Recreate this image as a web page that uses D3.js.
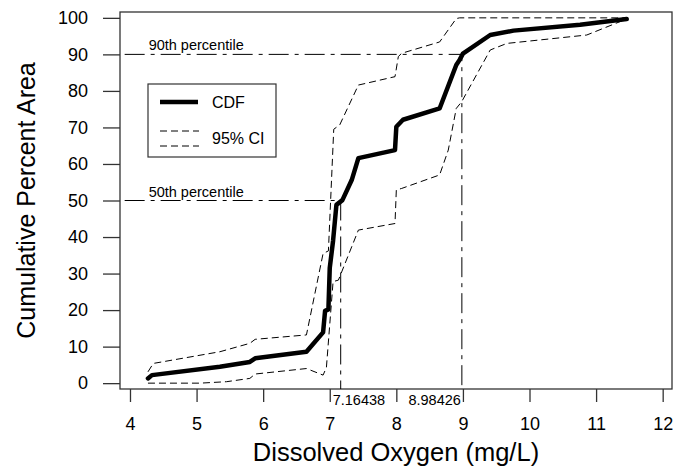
<!DOCTYPE html>
<html lang="en">
<head>
  <meta charset="UTF-8">
  <title>Dissolved Oxygen CDF</title>
  <script src="https://d3js.org/d3.v7.min.js"></script>
  <style>
    body { margin: 0; background: #fff; }
    text { font-family: "Liberation Sans", Arial, sans-serif; fill: #000; }
  </style>
</head>
<body>
  <svg id="chart" width="680" height="468"></svg>

  <script>
    // CDF estimate (dissolved oxygen mg/L, cumulative percent)
    const cdfX = [4.27, 4.33, 5.35, 5.8, 5.88, 6.65, 6.9, 6.93, 6.98, 7.0, 7.05, 7.1, 7.19, 7.33, 7.43, 7.98, 8.0, 8.1, 8.65, 8.9, 8.95, 9.0, 9.41, 9.76, 10.76, 11.46];
    const cdfY = [1.3, 2.2, 4.5, 5.8, 6.8, 8.6, 13.9, 19.8, 20.2, 31.5, 39, 48.8, 50.1, 55.6, 61.6, 63.8, 70.2, 72.1, 75.2, 87.1, 88.5, 90.2, 95.3, 96.5, 98.1, 99.7];

    // upper 95% confidence bound
    const upperX = [4.27, 4.35, 5.35, 5.8, 5.88, 6.65, 6.9, 6.98, 7.06, 7.15, 7.43, 7.98, 8.03, 8.08, 8.65, 8.9, 8.95, 11.46];
    const upperY = [3.1, 5.4, 8.6, 10.9, 12.0, 13.2, 35.5, 36.2, 69.5, 70.7, 81.6, 83.9, 89.4, 90.3, 93.4, 99.8, 100, 100];

    // lower 95% confidence bound
    const lowerX = [4.27, 5.05, 5.45, 5.8, 5.88, 6.65, 6.9, 6.95, 7.05, 7.13, 7.43, 7.98, 8.0, 8.08, 8.65, 8.78, 8.9, 8.98, 9.41, 9.66, 10.86, 11.46];
    const lowerY = [0, 0, 0.4, 1.3, 2.5, 4.0, 2.2, 4.3, 27.8, 28.2, 41.9, 43.7, 52.9, 53.3, 57, 63.8, 75.2, 77, 91.2, 93, 95.3, 99.7];

    // percentile markers
    const pctLevels = [50, 90];
    const pctValues = [7.16438, 8.98426];
    const pctNames = ["50th percentile", "90th percentile"];

    const xTicks = [4, 5, 6, 7, 8, 9, 10, 11, 12];
    const yTicks = [0, 10, 20, 30, 40, 50, 60, 70, 80, 90, 100];

    const svg = d3.select("#chart");

    // plot box
    const boxLeft = 120, boxRight = 672, boxTop = 12, boxBottom = 389;

    const x = d3.scaleLinear().domain([3.85, 12.14]).range([boxLeft, boxRight]);
    const y = d3.scaleLinear().domain([-1.6, 101.6]).range([boxBottom, boxTop]);

    const toPts = (xs, ys) => xs.map((v, i) => [v, ys[i]]);

    const line = d3.line()
      .x(d => x(d[0]))
      .y(d => y(d[1]));

    // box
    svg.append("rect")
      .attr("x", boxLeft)
      .attr("y", boxTop)
      .attr("width", boxRight - boxLeft)
      .attr("height", boxBottom - boxTop)
      .attr("fill", "none")
      .attr("stroke", "#333")
      .attr("stroke-width", 1.3);

    // x axis
    const xAxis = d3.axisBottom(x)
      .tickValues(xTicks)
      .tickSize(13)
      .tickPadding(15)
      .tickFormat(d3.format("d"));

    const gx = svg.append("g")
      .attr("transform", `translate(0,${boxBottom})`)
      .call(xAxis);
    gx.select(".domain").remove();
    gx.selectAll("line").attr("stroke", "#333").attr("stroke-width", 1.3);
    gx.selectAll("text")
      .style("font-size", "18px")
      .style("font-family", "'Liberation Sans', Arial, sans-serif");

    // y axis
    const yAxis = d3.axisLeft(y)
      .tickValues(yTicks)
      .tickSize(17)
      .tickPadding(15)
      .tickFormat(d3.format("d"));

    const gy = svg.append("g")
      .attr("transform", `translate(${boxLeft},0)`)
      .call(yAxis);
    gy.select(".domain").remove();
    gy.selectAll("line").attr("stroke", "#333").attr("stroke-width", 1.3);
    gy.selectAll("text")
      .style("font-size", "18px")
      .style("font-family", "'Liberation Sans', Arial, sans-serif");

    // axis titles
    svg.append("text")
      .attr("x", (boxLeft + boxRight) / 2)
      .attr("y", 461)
      .attr("text-anchor", "middle")
      .style("font-size", "25.5px")
      .text("Dissolved Oxygen (mg/L)");

    svg.append("text")
      .attr("transform", `translate(35,${(boxTop + boxBottom) / 2}) rotate(-90)`)
      .attr("text-anchor", "middle")
      .style("font-size", "25px")
      .text("Cumulative Percent Area");

    // percentile guide lines
    const dotdash = "20,6,4,6";
    pctLevels.forEach((p, i) => {
      const v = pctValues[i];
      svg.append("path")
        .attr("d", line([[3.92, p], [v, p], [v, y.invert(boxBottom)]]))
        .attr("fill", "none")
        .attr("stroke", "#000")
        .attr("stroke-width", 1)
        .attr("stroke-dasharray", dotdash);

      svg.append("text")
        .attr("x", x(4.28))
        .attr("y", y(p) - 4)
        .style("font-size", "14.5px")
        .text(pctNames[i]);
    });

    // value labels under the axis
    svg.append("text")
      .attr("x", x(pctValues[0]) - 8)
      .attr("y", 405)
      .attr("text-anchor", "start")
      .style("font-size", "14.5px")
      .text(pctValues[0]);

    svg.append("text")
      .attr("x", x(pctValues[1]) - 1)
      .attr("y", 405)
      .attr("text-anchor", "end")
      .style("font-size", "14.5px")
      .text(pctValues[1]);

    // confidence bounds
    [toPts(upperX, upperY), toPts(lowerX, lowerY)].forEach(pts => {
      svg.append("path")
        .attr("d", line(pts))
        .attr("fill", "none")
        .attr("stroke", "#000")
        .attr("stroke-width", 1)
        .attr("stroke-dasharray", "7,4");
    });

    // CDF
    svg.append("path")
      .attr("d", line(toPts(cdfX, cdfY)))
      .attr("fill", "none")
      .attr("stroke", "#000")
      .attr("stroke-width", 4.5)
      .attr("stroke-linejoin", "round")
      .attr("stroke-linecap", "round");

    // legend
    const legend = svg.append("g");
    legend.append("rect")
      .attr("x", 148)
      .attr("y", 84)
      .attr("width", 128)
      .attr("height", 73)
      .attr("fill", "#fff")
      .attr("stroke", "#333")
      .attr("stroke-width", 1.2);

    legend.append("line")
      .attr("x1", 160).attr("x2", 198)
      .attr("y1", 102).attr("y2", 102)
      .attr("stroke", "#000")
      .attr("stroke-width", 4.5);

    [131, 146].forEach(ly => {
      legend.append("line")
        .attr("x1", 160).attr("x2", 199)
        .attr("y1", ly).attr("y2", ly)
        .attr("stroke", "#000")
        .attr("stroke-width", 1)
        .attr("stroke-dasharray", "7,4");
    });

    legend.append("text")
      .attr("x", 212)
      .attr("y", 107.5)
      .style("font-size", "16px")
      .text("CDF");

    legend.append("text")
      .attr("x", 212)
      .attr("y", 144)
      .style("font-size", "16px")
      .text("95% CI");
  </script>
</body>
</html>
